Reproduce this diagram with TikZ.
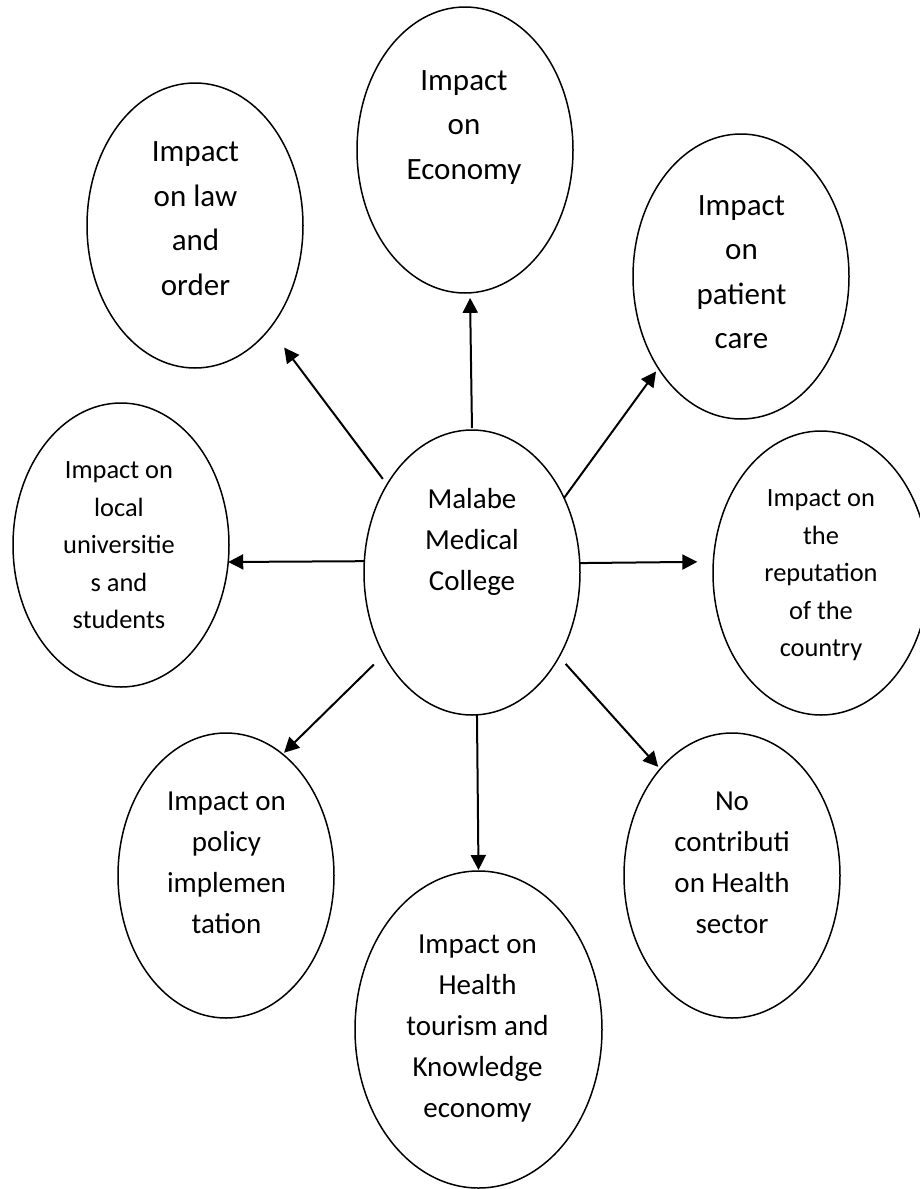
\documentclass[tikz,border=0pt]{standalone}
\usepackage{fontspec}
\setmainfont{Carlito}
\usetikzlibrary{shapes.geometric,arrows.meta}

\tikzset{
  bubble/.style={ellipse, draw, line width=1.5pt, inner sep=0pt, outer sep=0pt,
                 minimum width=216pt, minimum height=285pt},
  lbl/.style={anchor=north, align=center, inner sep=0pt},
  big/.style={font=\fontsize{31}{44.5}\selectfont},
  mid/.style={font=\fontsize{29}{41}\selectfont},
  sml/.style={font=\fontsize{26.4}{37.5}\selectfont},
  link/.style={line width=2pt, -{Triangle[length=15pt,width=15pt]}}
}

\begin{document}
\begin{tikzpicture}[x=1pt,y=-1pt]
  \useasboundingbox (0,0) rectangle (920,1189);

  % ellipses
  \node[bubble] (mmc) at (472,572.5) {};
  \node[bubble, minimum height=286pt] (eco) at (465,150) {};
  \node[bubble] (law) at (195,225.5) {};
  \node[bubble] (pat) at (741,276.5) {};
  \node[bubble, minimum height=284pt] (uni) at (121,545) {};
  \node[bubble, minimum height=284pt] (rep) at (821,573) {};
  \node[bubble] (pol) at (226,875.5) {};
  \node[bubble] (noc) at (732,875.5) {};
  \node[bubble, minimum width=247pt, minimum height=317pt] (bot) at (478.5,1029.5) {};

  % labels, set near the top of each ellipse
  \node[lbl, mid] (mmcT) at (472,479.3) {\strut Malabe\\Medical\\College};
  \node[lbl, big] (ecoT) at (464,58.9) {\strut Impact\\on\\Economy};
  \node[lbl, big] (lawT) at (195.5,130.6) {\strut Impact\\on law\\and\\order};
  \node[lbl, big] (patT) at (741.5,183.9) {\strut Impact\\on\\patient\\care};
  \node[lbl, sml] (uniT) at (119,452.1) {\strut Impact on\\local\\universitie\\s and\\students};
  \node[lbl, sml] (repT) at (821,480.5) {\strut Impact on\\the\\reputation\\of the\\country};
  \node[lbl, mid] (polT) at (226.5,781.3) {\strut Impact on\\policy\\implemen\\tation};
  \node[lbl, mid] (nocT) at (732,781.3) {\strut No\\contributi\\on Health\\sector};
  \node[lbl, mid] (botT) at (477.5,924.6) {\strut Impact on\\Health\\tourism and\\Knowledge\\economy};

  % arrows from the centre
  \draw[link, shorten <=2pt, shorten >=5pt] (mmc.90.8) -- (eco.-88.4);
  \draw[link, shorten <=7pt, shorten >=24pt] (mmc.134.6) -- (law.-54.8);
  \draw[link, shorten >=4pt] (mmc.39.4) -- (pat.228.8);
  \draw[link] (mmc.174.4) -- (uni.-9);
  \draw[link, shorten >=16pt] (mmc.5.6) -- (rep.174.2);
  \draw[link, shorten <=14pt, shorten >=2pt] (mmc.223.3) -- (pol.65.5);
  \draw[link, shorten >=1pt] (mmc.-88.4) -- (bot.90);
  \draw[link, shorten <=9.7pt, shorten >=3pt] (mmc.-44.6) -- (noc.124.7);
\end{tikzpicture}
\end{document}
